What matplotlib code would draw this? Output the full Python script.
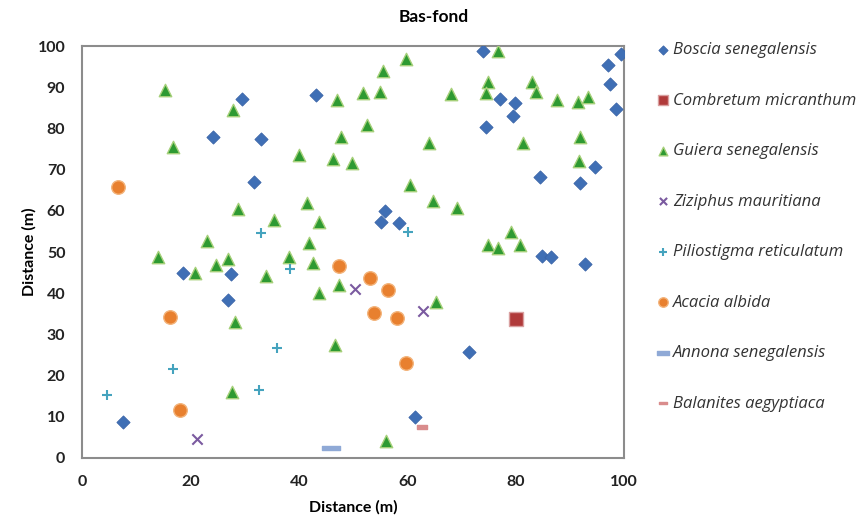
import numpy as np
import matplotlib.pyplot as plt
from matplotlib.path import Path

# Données (distance en m)
boscia_x = [29.6, 43.2, 24.2, 33.0, 31.7, 74.0, 99.5, 97.1, 97.5, 77.1, 79.9, 79.6, 98.5, 74.5,
            94.6, 84.5, 91.9, 55.9, 55.2, 58.4, 84.8, 86.5, 92.8, 18.7, 27.5, 27.0, 71.4, 61.4, 7.5]
boscia_y = [87.1, 88.1, 77.9, 77.4, 67.0, 98.7, 98.2, 95.5, 90.9, 87.2, 86.1, 83.1, 84.7, 80.4,
            70.7, 68.3, 66.7, 60.0, 57.2, 57.1, 49.1, 48.9, 47.1, 45.0, 44.6, 38.3, 25.8, 10.0, 8.8]

combretum_x = [80.1]
combretum_y = [33.7]

guiera_x = [15.4, 27.8, 16.7, 47.1, 47.8, 40.0, 46.4, 49.9, 28.7, 41.5, 35.5, 43.8, 23.0, 41.9,
            76.8, 59.7, 55.5, 75.0, 83.0, 51.9, 54.9, 68.1, 74.5, 83.7, 87.6, 91.6, 93.3, 52.5,
            64.1, 81.4, 91.9, 91.7, 60.6, 64.8, 69.2, 79.1, 75.0, 76.8, 80.8, 65.4, 56.1, 14.0,
            20.8, 24.7, 26.9, 33.9, 38.1, 42.6, 47.4, 43.8, 28.2, 46.7, 27.6]
guiera_y = [89.3, 84.5, 75.6, 86.9, 78.0, 73.5, 72.7, 71.7, 60.4, 62.0, 57.8, 57.2, 52.7, 52.1,
            98.9, 96.8, 94.0, 91.3, 91.2, 88.5, 88.8, 88.3, 88.5, 88.8, 86.9, 86.5, 87.7, 80.8,
            76.4, 76.4, 78.0, 72.1, 66.3, 62.5, 60.6, 54.9, 51.7, 50.9, 51.7, 37.8, 4.1, 48.7,
            45.0, 46.8, 48.2, 44.2, 48.9, 47.4, 42.0, 40.0, 33.1, 27.4, 16.1]

ziziphus_x = [21.3, 50.4, 62.9]
ziziphus_y = [4.5, 41.0, 35.7]

piliostigma_x = [33.0, 60.1, 38.4, 35.9, 16.8, 32.7, 4.7]
piliostigma_y = [54.7, 54.9, 46.0, 26.8, 21.5, 16.5, 15.3]

acacia_x = [6.7, 47.4, 53.1, 56.5, 53.9, 58.2, 16.2, 59.8, 18.1]
acacia_y = [65.7, 46.6, 43.6, 40.8, 35.1, 34.1, 34.3, 23.1, 11.7]

annona_x = [45.9]
annona_y = [2.4]

balanites_x = [62.7]
balanites_y = [7.6]

# marqueur "tiret" (rectangle aplati)
tiret = Path([(-1, -0.28), (1, -0.28), (1, 0.28), (-1, 0.28), (-1, -0.28)],
             [Path.MOVETO, Path.LINETO, Path.LINETO, Path.LINETO, Path.CLOSEPOLY])

fig = plt.figure(figsize=(8.67, 5.24), dpi=100)
ax = fig.add_axes([0.0946, 0.126, 0.6251, 0.786])

ax.scatter(boscia_x, boscia_y, marker='D', s=45, color='#3F6FB5', edgecolor='#3A64A8',
           linewidth=0.6, label='Boscia senegalensis', zorder=3)
ax.scatter(combretum_x, combretum_y, marker='s', s=100, color='#B03A3A', edgecolor='#D9A0A0',
           linewidth=1, label='Combretum micranthum', zorder=3)
ax.scatter(guiera_x, guiera_y, marker='^', s=80, color='#2E9A32', edgecolor='#A6D07A',
           linewidth=1, label='Guiera senegalensis', zorder=3)
ax.scatter(ziziphus_x, ziziphus_y, marker='x', s=55, color='#7B5AA0', linewidth=1.5,
           label='Ziziphus mauritiana', zorder=3)
ax.scatter(piliostigma_x, piliostigma_y, marker='+', s=60, color='#45A3BE', linewidth=1.5,
           label='Piliostigma reticulatum', zorder=3)
ax.scatter(acacia_x, acacia_y, marker='o', s=95, color='#E8802F', edgecolor='#F3B37A',
           linewidth=1, label='Acacia albida', zorder=3)
ax.scatter(annona_x, annona_y, marker=tiret, s=160, color='#8FA9D6', edgecolor='#8FA9D6',
           label='Annona senegalensis', zorder=3)
ax.scatter(balanites_x, balanites_y, marker=tiret, s=60, color='#D98C8C', edgecolor='#D98C8C',
           label='Balanites aegyptiaca', zorder=3)

ax.set_xlim(0, 100)
ax.set_ylim(0, 100)
ax.set_xticks(np.arange(0, 101, 20))
ax.set_yticks(np.arange(0, 101, 10))
ax.tick_params(axis='x', length=0, labelsize=11.5, pad=12)
ax.tick_params(axis='y', length=0, labelsize=11.5, pad=12)
for lab in ax.get_xticklabels() + ax.get_yticklabels():
    lab.set_fontweight('bold')
    lab.set_family('Lato')
    lab.set_color('#222222')
for s in ax.spines.values():
    s.set_color('#8C8C8C')
    s.set_linewidth(1.5)

ax.set_xlabel('Distance (m)', fontsize=11.5, fontweight='bold', family='Lato', labelpad=8)
ax.set_ylabel('Distance (m)', fontsize=11.5, fontweight='bold', family='Lato', labelpad=1)
fig.text(0.5, 0.967, 'Bas-fond', ha='center', va='center', fontsize=12.5,
         fontweight='bold', family='Lato')

leg = fig.legend(loc='upper left', bbox_to_anchor=(0.738, 0.948), frameon=False,
                 prop={'family': 'Open Sans', 'style': 'italic', 'size': 12},
                 labelspacing=2.07, handletextpad=0.1, handlelength=1.0, markerscale=0.7)
for t in leg.get_texts():
    t.set_color('#333333')

plt.savefig('out.png', dpi=100)
